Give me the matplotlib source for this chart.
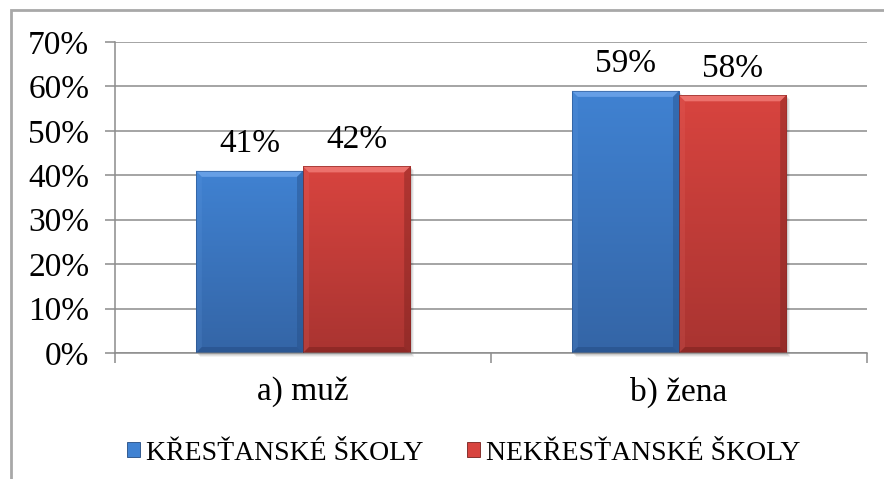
import numpy as np
import matplotlib.pyplot as plt
from matplotlib.patches import Rectangle, Polygon
from matplotlib.colors import LinearSegmentedColormap
from matplotlib.ticker import FixedLocator

categories = ["a) muž", "b) žena"]
series_names = ["KŘESŤANSKÉ ŠKOLY", "NEKŘESŤANSKÉ ŠKOLY"]
krestanske = [41, 59]
nekrestanske = [42, 58]

plt.rcParams["font.family"] = "serif"
plt.rcParams["font.serif"] = ["Liberation Serif", "DejaVu Serif"]

# (top colour, bottom colour, light bevel, dark bevel)
BLUE = ("#4082d2", "#3465a6", "#6ea5ea", "#234b82")
RED = ("#d8443f", "#a93431", "#f07a75", "#77201d")
GRID = "#8c8c8c"

fig = plt.figure(figsize=(8.84, 4.79), dpi=100)
ax = fig.add_axes([115 / 884, 1 - 353 / 479, (867 - 115) / 884, (353 - 42) / 479])

x = np.arange(len(categories))
width = 0.285
ax.set_xlim(-0.5, len(categories) - 0.5)
ax.set_ylim(0, 70)

# bevel size, pixels -> data units
bev = 6
dx = bev * 2.0 / ax.bbox.width
dy = bev * 70.0 / ax.bbox.height


def bevel_bar(x0, h, style):
    top, bot, light, dark = style
    x1 = x0 + width
    # soft drop shadow
    for k, a in [(4, 0.05), (3, 0.07), (2, 0.09)]:
        ax.add_patch(Rectangle((x0 + k * dx / bev, -k * dy / bev), width, h,
                               facecolor="black", edgecolor="none", alpha=a,
                               zorder=1.5, clip_on=False))
    body = Rectangle((x0, 0), width, h, facecolor="none", edgecolor="none", zorder=2)
    ax.add_patch(body)
    cmap = LinearSegmentedColormap.from_list("bar", [bot, top])
    grad = np.linspace(0, 1, 256).reshape(-1, 1)
    im = ax.imshow(grad, extent=(x0, x1, 0, h), origin="lower", cmap=cmap,
                   aspect="auto", zorder=2, interpolation="bilinear")
    im.set_clip_path(body)
    # bevel faces
    ax.add_patch(Polygon([(x0, h), (x1, h), (x1 - dx, h - dy), (x0 + dx, h - dy)],
                         facecolor=light, edgecolor="none", alpha=0.85, zorder=3))
    ax.add_patch(Polygon([(x0, 0), (x0, h), (x0 + dx, h - dy), (x0 + dx, dy)],
                         facecolor=light, edgecolor="none", alpha=0.15, zorder=3))
    ax.add_patch(Polygon([(x1, 0), (x1, h), (x1 - dx, h - dy), (x1 - dx, dy)],
                         facecolor=dark, edgecolor="none", alpha=0.4, zorder=3))
    ax.add_patch(Polygon([(x0, 0), (x1, 0), (x1 - dx, dy), (x0 + dx, dy)],
                         facecolor=dark, edgecolor="none", alpha=0.5, zorder=3))
    ax.add_patch(Rectangle((x0, 0), width, h, facecolor="none", edgecolor=dark,
                           linewidth=0.6, alpha=0.6, zorder=3.5))
    ax.text(x0 + width / 2, h + 2.6, "%d%%" % h, ha="center", va="bottom",
            fontsize=24, color="black", zorder=4)


for xi, v in zip(x, krestanske):
    bevel_bar(xi - width, v, BLUE)
for xi, v in zip(x, nekrestanske):
    bevel_bar(xi, v, RED)

ax.set_xlim(-0.5, len(categories) - 0.5)
ax.set_ylim(0, 70)

# axes styling
ax.set_yticks(np.arange(0, 71, 10))
ax.set_yticklabels(["%d%%" % t for t in range(0, 71, 10)], fontsize=24)
ax.yaxis.grid(True, color=GRID, linewidth=1.1)
ax.set_axisbelow(True)
ax.set_xticks(x)
ax.set_xticklabels(categories, fontsize=24)
ax.xaxis.set_minor_locator(FixedLocator([-0.5, 0.5, 1.5]))
ax.tick_params(axis="x", which="major", length=0, pad=17)
ax.tick_params(axis="x", which="minor", length=7.5, color=GRID, width=1.1)
ax.tick_params(axis="y", length=7.5, color=GRID, width=1.1, pad=11)
for side in ["top", "right"]:
    ax.spines[side].set_visible(False)
for side in ["left", "bottom"]:
    ax.spines[side].set_color(GRID)
    ax.spines[side].set_linewidth(1.1)

# chart frame (only top and left edges fall inside the image)
fig.add_artist(Rectangle((11 / 884, -0.5), 2, 0.5 + 1 - 10 / 479, transform=fig.transFigure,
                         fill=False, edgecolor="#a8a8a8", linewidth=2, clip_on=False))

handles = [Rectangle((0, 0), 1, 1, facecolor=BLUE[0], edgecolor=BLUE[3], linewidth=0.6),
           Rectangle((0, 0), 1, 1, facecolor=RED[0], edgecolor=RED[3], linewidth=0.6)]
fig.legend(handles, series_names, loc="center left", bbox_to_anchor=(127 / 884, 1 - 453 / 479),
           ncol=2, frameon=False, fontsize=20, handlelength=0.47, handleheight=0.47,
           handletextpad=0.2, columnspacing=1.6, borderpad=0, borderaxespad=0)

fig.savefig("out.png", dpi=100)
